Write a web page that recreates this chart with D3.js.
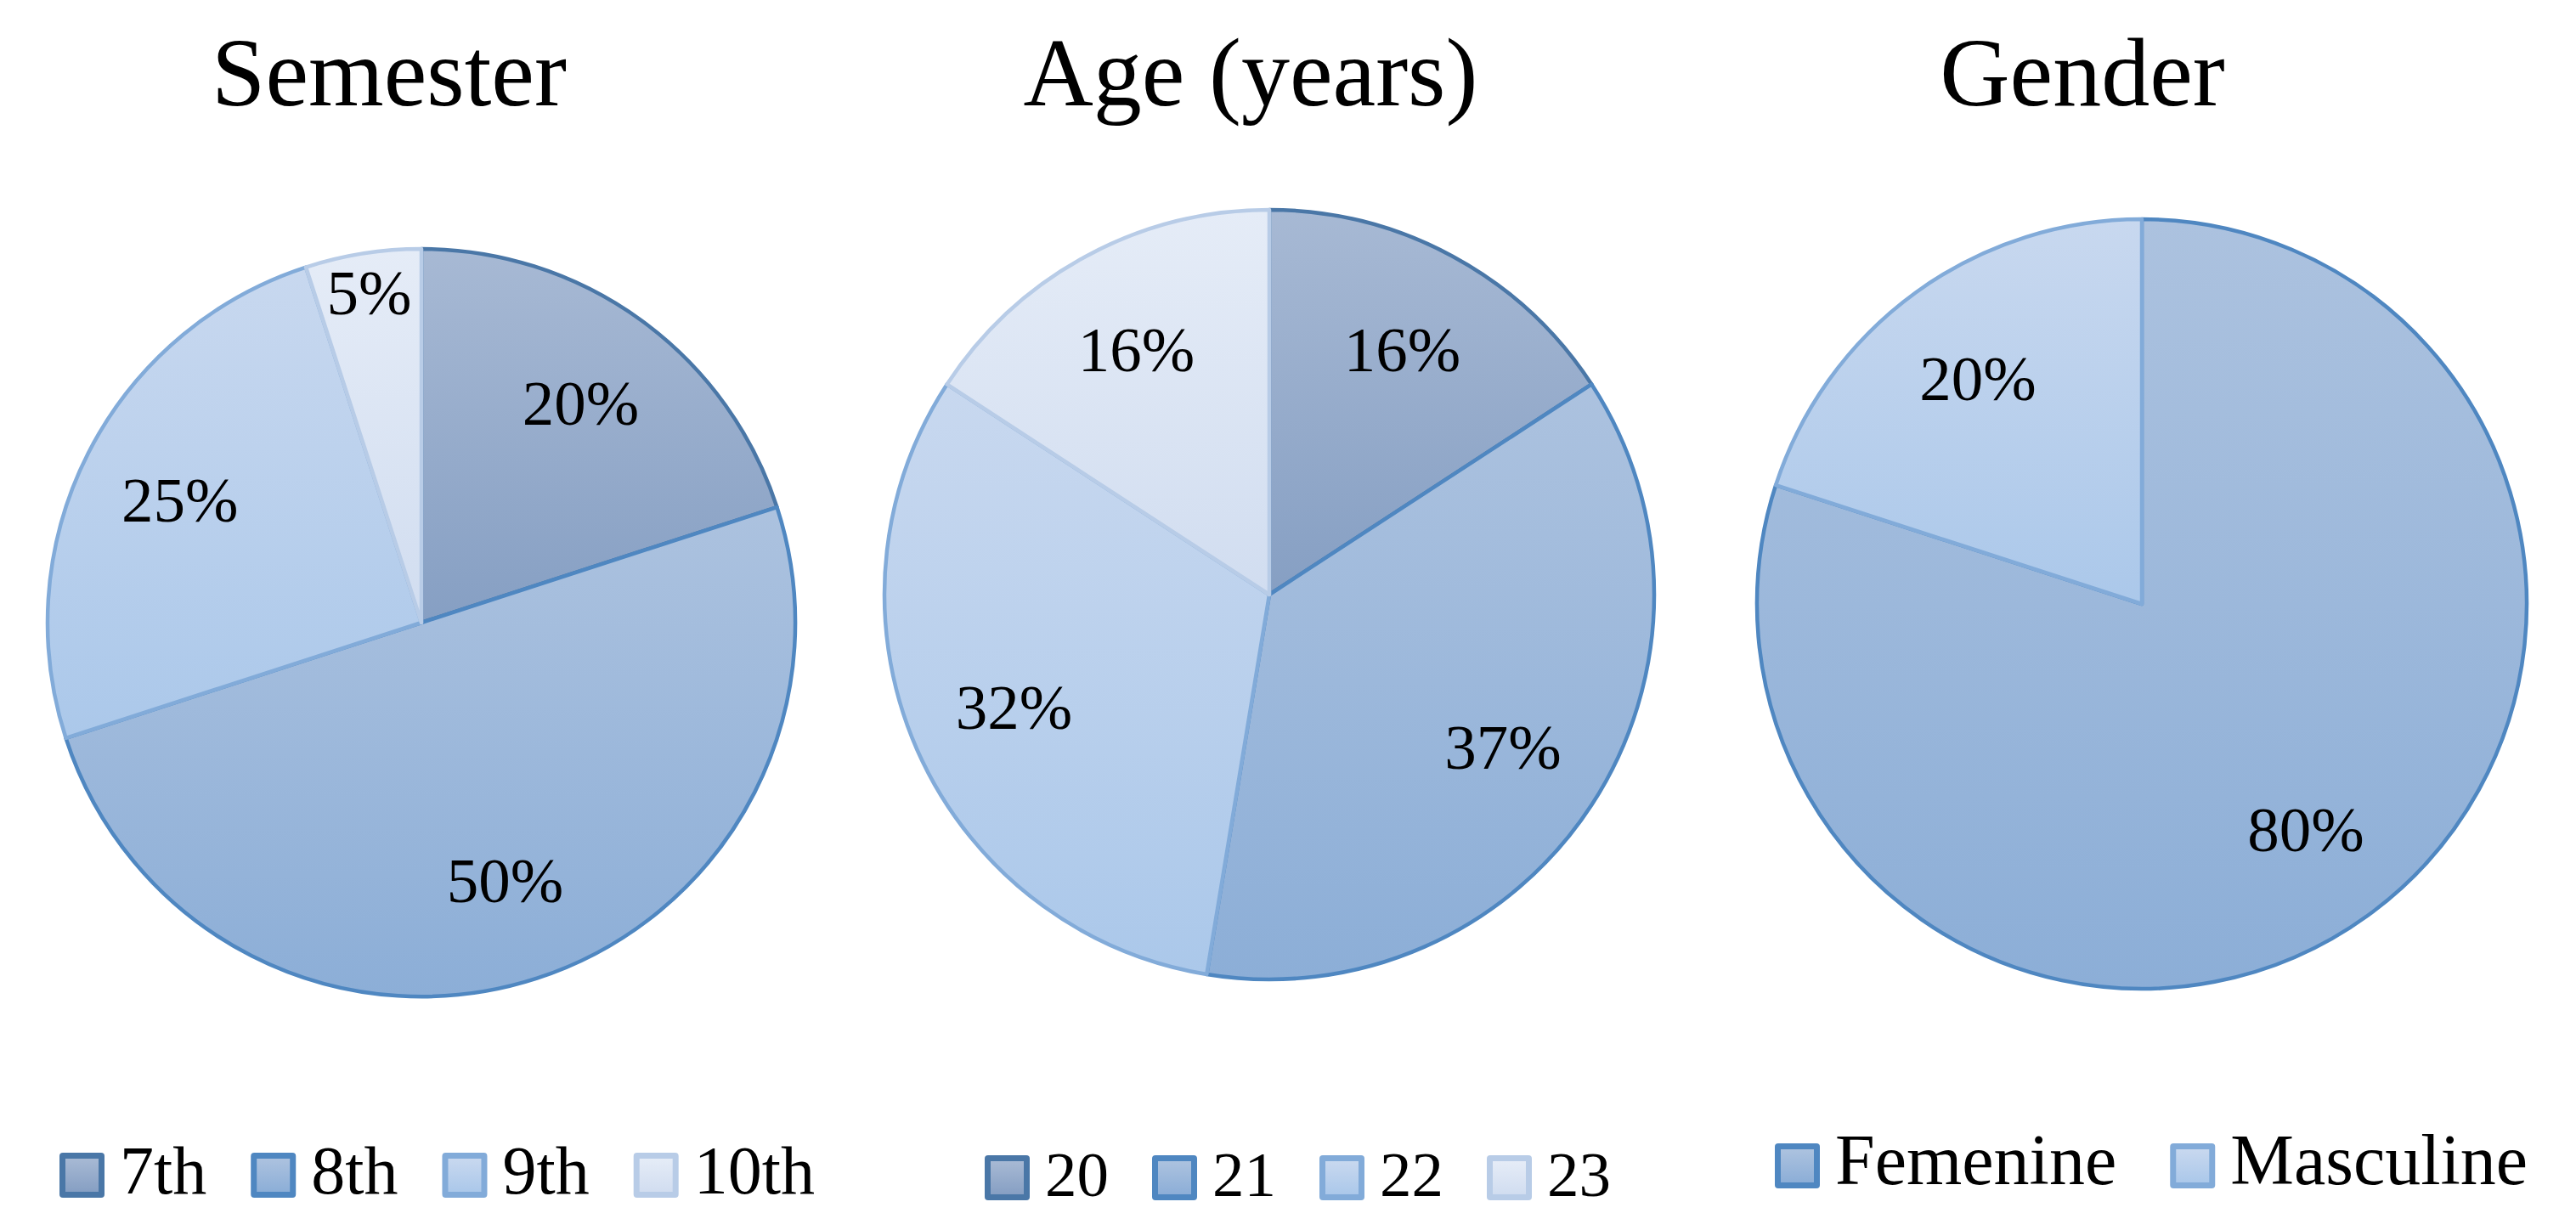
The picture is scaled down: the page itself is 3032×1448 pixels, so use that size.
<!DOCTYPE html>
<html>
<head>
<meta charset="utf-8">
<script src="https://cdn.jsdelivr.net/npm/d3@7"></script>
<style>
  html, body { margin: 0; padding: 0; background: #ffffff; }
  svg { display: block; }
</style>
</head>
<body>
<script>
// ---------------- DATA ----------------
const chartTitles = ["Semester", "Age (years)", "Gender"];

const semesterCategories = ["7th", "8th", "9th", "10th"];
const semesterValues = [20, 50, 25, 5];

const ageCategories = ["20", "21", "22", "23"];
const ageValues = [15.8, 36.8, 31.6, 15.8];

const genderCategories = ["Femenine", "Masculine"];
const genderValues = [80, 20];

// ---------------- STYLE ----------------
const palette = [
  { stroke: "#4a77a7", top: "#a7b9d4", bottom: "#869fc3" },
  { stroke: "#4f87c1", top: "#acc2df", bottom: "#8caed7" },
  { stroke: "#82abd9", top: "#c8d8ef", bottom: "#abc8ea" },
  { stroke: "#b8cce7", top: "#e5ecf7", bottom: "#d1ddf0" }
];

const W = 3032, H = 1448;
const FONT = "'Liberation Serif', 'Times New Roman', serif";

const charts = [
  { title: chartTitles[0], cats: semesterCategories, vals: semesterValues, colors: [0, 1, 2, 3],
    cx: 496, cy: 733, r: 440, titleX: 458,
    legendX: 70, legendTop: 1357, legendFont: 80, legendGap: 52 },
  { title: chartTitles[1], cats: ageCategories, vals: ageValues, colors: [0, 1, 2, 3],
    cx: 1494, cy: 700, r: 453, titleX: 1472,
    legendX: 1159, legendTop: 1360, legendFont: 75, legendGap: 51 },
  { title: chartTitles[2], cats: genderCategories, vals: genderValues, colors: [1, 2],
    cx: 2521, cy: 711, r: 453, titleX: 2451,
    legendX: 2089, legendTop: 1346, legendFont: 84, legendGap: 63 }
];

const svg = d3.select("body").append("svg")
  .attr("width", W).attr("height", H)
  .attr("viewBox", `0 0 ${W} ${H}`);

svg.append("rect").attr("width", W).attr("height", H).attr("fill", "#ffffff");

const defs = svg.append("defs");
palette.forEach((p, i) => {
  const g = defs.append("linearGradient")
    .attr("id", "grad" + i)
    .attr("x1", 0).attr("y1", 0).attr("x2", 0).attr("y2", 1);
  g.append("stop").attr("offset", "0%").attr("stop-color", p.top);
  g.append("stop").attr("offset", "100%").attr("stop-color", p.bottom);
});

const pctFmt = v => Math.round(v) + "%";

charts.forEach(ch => {
  const total = d3.sum(ch.vals);
  const data = ch.cats.map((c, i) => ({ cat: c, value: ch.vals[i], color: ch.colors[i] }));

  // Title
  svg.append("text")
    .attr("x", ch.titleX).attr("y", 124)
    .attr("text-anchor", "middle")
    .attr("font-family", FONT)
    .attr("font-size", 114)
    .attr("fill", "#000")
    .text(ch.title);

  // Pie
  const pie = d3.pie().sort(null).value(d => d.value)
    .startAngle(0).endAngle(2 * Math.PI);
  const arcs = pie(data);
  const arc = d3.arc().innerRadius(0).outerRadius(ch.r);

  const g = svg.append("g").attr("transform", `translate(${ch.cx},${ch.cy})`);

  g.selectAll("path.slice")
    .data(arcs)
    .join("path")
    .attr("class", "slice")
    .attr("d", arc)
    .attr("fill", d => `url(#grad${d.data.color})`)
    .attr("stroke", d => palette[d.data.color].stroke)
    .attr("stroke-width", 4.5)
    .attr("stroke-linejoin", "round");

  // Labels
  g.selectAll("text.lbl")
    .data(arcs)
    .join("text")
    .attr("class", "lbl")
    .each(function (d) {
      const share = d.data.value / total;
      const f = share < 0.1 ? 0.895 : 0.725;
      const la = d3.arc().innerRadius(ch.r * f).outerRadius(ch.r * f);
      const [x, y] = la.centroid(d);
      d3.select(this).attr("x", x).attr("y", y);
    })
    .attr("dy", "0.34em")
    .attr("text-anchor", "middle")
    .attr("font-family", FONT)
    .attr("font-size", 75)
    .attr("fill", "#000")
    .text(d => pctFmt(d.data.value));

  // Legend
  const sq = 53;
  const lg = svg.append("g");
  let x = ch.legendX;
  data.forEach(d => {
    const p = palette[d.color];
    lg.append("rect")
      .attr("x", x).attr("y", ch.legendTop)
      .attr("width", sq).attr("height", sq)
      .attr("rx", 4).attr("ry", 4)
      .attr("fill", p.stroke);
    lg.append("rect")
      .attr("x", x + 7).attr("y", ch.legendTop + 7)
      .attr("width", sq - 14).attr("height", sq - 14)
      .attr("fill", `url(#grad${d.color})`);
    const t = lg.append("text")
      .attr("x", x + sq + 18)
      .attr("y", ch.legendTop + sq - 5)
      .attr("font-family", FONT)
      .attr("font-size", ch.legendFont)
      .attr("fill", "#000")
      .text(d.cat);
    const tw = t.node().getComputedTextLength();
    x = x + sq + 18 + tw + ch.legendGap;
  });
});
</script>
</body>
</html>
